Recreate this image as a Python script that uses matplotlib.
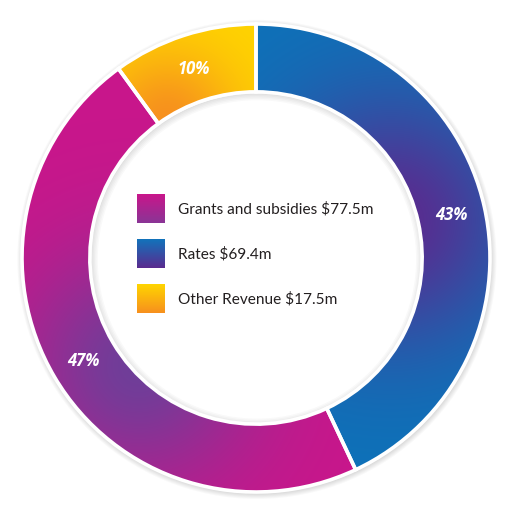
import numpy as np
import matplotlib
matplotlib.use("Agg")
import matplotlib.pyplot as plt
from matplotlib.patches import Wedge
from matplotlib.colors import to_rgb

# ---- data ----
categories = ["Rates", "Grants and subsidies", "Other Revenue"]
amounts_m = [69.4, 77.5, 17.5]
percents = [43, 47, 10]
legend_order = ["Grants and subsidies", "Rates", "Other Revenue"]

# ---- figure ----
W = H = 510
fig = plt.figure(figsize=(5.1, 5.1), dpi=100)
ax = fig.add_axes([0, 0, 1, 1])
cx, cy, R = 256, 259, 234
xlim = (-cx / R, (W - cx) / R)
ylim = (-(H - cy) / R, cy / R)

inner = 0.71
width = 1 - inner

wedges, texts, autotexts = ax.pie(
    percents, startangle=90, counterclock=False, radius=1.0,
    autopct=lambda p: f"{p:.0f}%", pctdistance=0.855,
    wedgeprops=dict(width=width, facecolor="none", edgecolor="white", linewidth=2.6),
    textprops=dict(color="white", fontsize=12, fontweight="bold", fontstyle="italic",
                   family=["Open Sans", "DejaVu Sans"]),
    frame=True)
ax.set_xlim(*xlim)
ax.set_ylim(*ylim)
ax.set_aspect("auto")
ax.axis("off")
for w in wedges:
    w.set_zorder(3)
for t in autotexts:
    t.set_zorder(4)

# soft shadows (outer ring and inside the hole)
for k in range(1, 7):
    ax.add_patch(Wedge((0.004, -0.006), 1.0 + 0.004 * k, 0, 360, width=0.004 * k + 0.02,
                       facecolor="#000000", alpha=0.022, edgecolor="none", zorder=0.5))
for k in range(1, 6):
    ax.add_patch(Wedge((0.004, -0.006), inner, 0, 360, width=0.006 * k,
                       facecolor="#000000", alpha=0.022, edgecolor="none", zorder=0.6))

# gradient grid
N = 700
xs = np.linspace(xlim[0], xlim[1], N)
ys = np.linspace(ylim[1], ylim[0], N)
X, Y = np.meshgrid(xs, ys)


def blend(c1, c2, w):
    c1 = np.array(to_rgb(c1)); c2 = np.array(to_rgb(c2))
    return c1[None, None, :] * (1 - w[..., None]) + c2[None, None, :] * w[..., None]


def focus(fx, fy, s):
    return np.exp(-((X - fx) ** 2 + (Y - fy) ** 2) / s ** 2)

grad = {
    "Rates": blend("#0d72b9", "#5a2b8f", focus(0.58, 0.16, 0.52)),
    "Grants and subsidies": blend("#c9168b", "#6f3e99", focus(-0.50, -0.46, 0.5)),
    "Other Revenue": blend("#ffd500", "#f7901e", focus(-0.38, 0.58, 0.30)),
}

for cat, w in zip(categories, wedges):
    im = ax.imshow(grad[cat], extent=(xlim[0], xlim[1], ylim[0], ylim[1]),
                   origin="upper", zorder=2, interpolation="bilinear", aspect="auto")
    im.set_clip_path(w)

# legend squares
sq_w, sq_h = 28 / R, 29 / R
lx = (137 - cx) / R
tx = (178 - cx) / R
tops = [195, 240, 285]
leg_grad = {
    "Grants and subsidies": ("#c9168b", "#8a3596"),
    "Rates": ("#1273bb", "#5a2b8f"),
    "Other Revenue": ("#ffd500", "#f7901e"),
}
for cat, top in zip(legend_order, tops):
    c1, c2 = leg_grad[cat]
    g = np.linspace(0, 1, 64)[:, None] * np.ones((1, 4))
    img = blend(c1, c2, g)
    y_top = (cy - top) / R
    y_bot = y_top - sq_h
    ax.imshow(img, extent=(lx, lx + sq_w, y_bot, y_top), origin="upper",
              zorder=5, aspect="auto", interpolation="bilinear")
    amt = amounts_m[categories.index(cat)]
    ax.text(tx, (y_top + y_bot) / 2, f"{cat} ${amt}m", ha="left", va="center",
            fontsize=11.1, color="#231f20", family=["Lato", "DejaVu Sans"], zorder=6)

ax.set_xlim(*xlim)
ax.set_ylim(*ylim)
fig.savefig("out.png", dpi=100)
